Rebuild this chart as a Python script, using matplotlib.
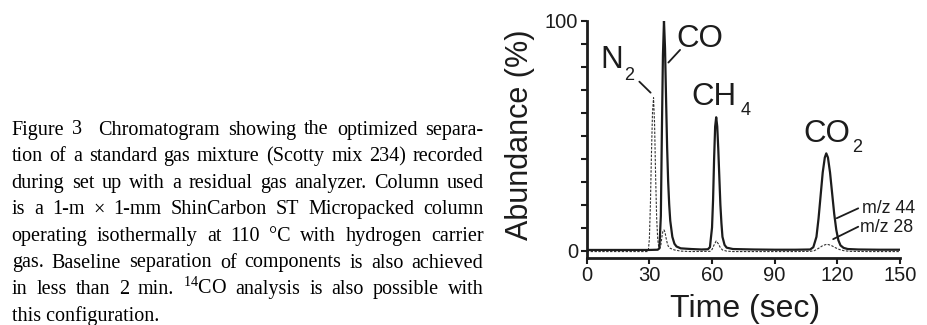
import matplotlib
matplotlib.use("Agg")
import matplotlib.pyplot as plt

# chromatogram traces (time in sec, abundance in %)
time_m44 = [0, 10, 20, 30, 34, 34.8, 35.5, 36, 36.5, 37, 37.5, 38, 38.5, 39, 39.5, 40, 41, 42, 43, 45,
            50, 55, 58, 59, 60, 60.5, 61, 61.5, 62, 62.5, 63, 63.5, 64, 64.5, 65, 66, 67, 70,
            80, 90, 100, 107, 108.5, 110, 111, 112, 113, 114, 114.7, 115.5, 116.5, 117.5, 118.5,
            119.5, 120.5, 121.5, 123, 125, 130, 140, 150]
abund_m44 = [0.3, 0.3, 0.3, 0.3, 0.4, 1, 15, 52, 85, 100, 88, 66, 45, 30, 20, 13, 6, 3, 1.8, 1.0,
             0.7, 0.5, 0.6, 1.5, 10, 22, 40, 54, 58, 54, 44, 32, 20, 12, 6, 2.5, 1.3, 0.7,
             0.5, 0.4, 0.4, 0.5, 1.5, 6, 14, 24, 34, 40.5, 42.3, 40.5, 34, 25, 16,
             9, 4.5, 2.3, 1.2, 0.7, 0.5, 0.4, 0.4]

time_m28 = [0, 10, 20, 29, 29.5, 30, 30.5, 31, 31.5, 32, 32.5, 33, 33.5, 34, 34.5, 35, 35.5, 36,
            36.5, 37, 37.5, 38, 38.5, 39, 40, 42, 45, 50, 59, 60, 61, 62, 63, 64, 65, 67, 70,
            100, 107, 109, 111, 113, 115, 117, 119, 121, 123, 126, 135, 150]
abund_m28 = [-0.4, -0.4, -0.4, -0.4, 0, 5, 20, 42, 60, 66.5, 55, 32, 14, 5, 1.5, 1, 2.5, 6,
             8.5, 9, 8, 5.5, 3.5, 2, 1, 0.3, -0.2, -0.4, -0.3, 0.5, 2.5, 4.2, 3, 1.3, 0.3, -0.2, -0.4,
             -0.4, -0.3, 0, 1, 2.2, 2.8, 2.3, 1.3, 0.5, 0, -0.3, -0.4, -0.4]

x_ticks = [0, 30, 60, 90, 120, 150]
y_ticks = [0, 10, 20, 30, 40, 50, 60, 70, 80, 90, 100]
y_tick_labels = ["0", "", "", "", "", "", "", "", "", "", "100"]

peak_names = ["N", "CO", "CH", "CO"]
peak_subs = ["2", "", "4", "2"]
trace_names = ["m/z 44", "m/z 28"]

caption_lines = [
    "Figure 3  Chromatogram showing the optimized separa-",
    "tion of a standard gas mixture (Scotty mix 234) recorded",
    "during set up with a residual gas analyzer. Column used",
    "is a 1-m \u00d7 1-mm ShinCarbon ST Micropacked column",
    "operating isothermally at 110 \u00b0C with hydrogen carrier",
    "gas. Baseline separation of components is also achieved",
    "in less than 2 min. $^{14}$CO analysis is also possible with",
    "this configuration.",
]

plt.rcParams["mathtext.fontset"] = "custom"
plt.rcParams["mathtext.rm"] = "Liberation Serif"
plt.rcParams["mathtext.it"] = "Liberation Serif:italic"
plt.rcParams["mathtext.bf"] = "Liberation Serif:bold"

W, H = 928, 325
ink = "#1c1c1c"

fig = plt.figure(figsize=(W / 100, H / 100), dpi=100)
ax = fig.add_axes([586.7 / W, 67 / H, 313.3 / W, 237.3 / H])

ax.plot(time_m28, abund_m28, color="#333333", lw=0.8, ls=(0, (2.2, 1.3)))
ax.plot(time_m44, abund_m44, color=ink, lw=1.6)

ax.set_xlim(0, 150)
ax.set_ylim(-3.2, 100)
for s in ["top", "right"]:
    ax.spines[s].set_visible(False)
for s in ["left", "bottom"]:
    ax.spines[s].set_linewidth(2.0)
    ax.spines[s].set_color(ink)

ax.set_xticks(x_ticks)
ax.set_xticklabels([str(v) for v in x_ticks])
ax.set_yticks(y_ticks)
ax.set_yticklabels(y_tick_labels)
ax.tick_params(direction="out", length=4.5, width=1.5, color=ink, labelcolor=ink,
               labelsize=14.5, pad=1.5, labelfontfamily="Liberation Sans")

# peak labels (main text and subscript)
big = 22.5
small = 13
sans = "Liberation Sans"
label_pos = [(6.4, 79.3), (43.1, 88.7), (50.3, 63.3), (103.7, 47.4)]
sub_pos = [(17.9, 74.2), None, (73.5, 59.0), (127.2, 42.8)]
for name, sub, p, sp in zip(peak_names, peak_subs, label_pos, sub_pos):
    ax.text(p[0], p[1], name, fontsize=big, family=sans, color=ink, va="baseline", ha="left")
    if sub:
        ax.text(sp[0], sp[1], sub, fontsize=small, family=sans, color=ink, va="baseline", ha="left")

ax.text(131.6, 16.3, trace_names[0], fontsize=12.8, family=sans, color=ink, va="baseline",
        clip_on=False)
ax.text(130.8, 8.3, trace_names[1], fontsize=12.8, family=sans, color=ink, va="baseline",
        clip_on=False)

# pointer lines
pointers = [((25.2, 73.5), (30.6, 68.7)), ((44.7, 87.3), (39.1, 81.8)),
            ((130.0, 18.4), (119.7, 14.1)), ((130.0, 10.4), (118.0, 5.0))]
for a, b in pointers:
    ax.annotate("", xy=b, xytext=a, arrowprops=dict(arrowstyle="-", lw=1.3, color=ink,
                                                   shrinkA=0, shrinkB=0))

fig.text(535 / W, 1 - 135 / H, "Abundance (%)", rotation=90, ha="right", va="center",
         fontsize=22, family=sans, color=ink)
fig.text(745 / W, 1 - 317.5 / H, "Time (sec)", ha="center", va="baseline",
         fontsize=23, family=sans, color=ink)

# caption, justified like the printed page
serif = "Liberation Serif"
cap_size = 14.5
x0, x1 = 11.7, 483.5
base0, step = 134.5, 26.6
renderer = fig.canvas.get_renderer()
for i, line in enumerate(caption_lines):
    y = 1 - (base0 + i * step) / H
    if i == len(caption_lines) - 1:
        fig.text(x0 / W, y, line, fontsize=cap_size, family=serif, va="baseline", ha="left")
        continue
    tokens = line.split(" ")
    items = []
    for tok in tokens:
        if tok:
            t = fig.text(0, y, tok, fontsize=cap_size, family=serif, va="baseline", ha="left")
            w = t.get_window_extent(renderer).width
        else:
            t, w = None, 0.0
        items.append((t, w))
    gap = (x1 - x0 - sum(w for _, w in items)) / (len(items) - 1)
    x = x0
    for t, w in items:
        if t is not None:
            t.set_x(x / W)
        x += w + gap

fig.savefig("out.png", dpi=100)
